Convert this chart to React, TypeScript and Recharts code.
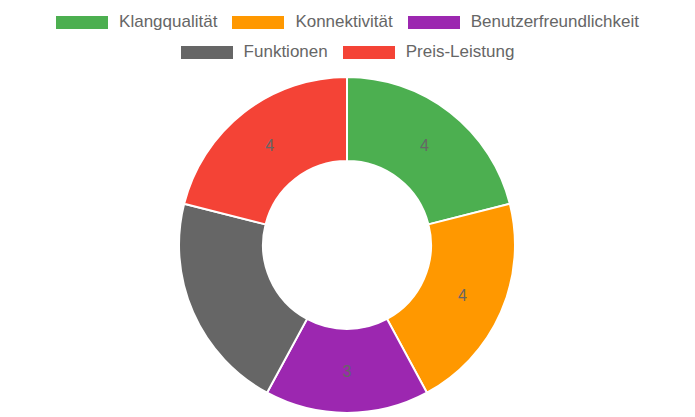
import React from "react";
import { PieChart, Pie, Cell, Legend } from "recharts";

// ratings per category
const categories = ["Klangqualität", "Konnektivität", "Benutzerfreundlichkeit", "Funktionen", "Preis-Leistung"];
const ratings = [4, 4, 3, 4, 4];
const sliceColors = ["#4caf50", "#ff9800", "#9c27b0", "#666666", "#f44336"];

const data = categories.map((name, i) => ({ name, value: ratings[i] }));

const RADIAN = Math.PI / 180;
const LEGEND_HEIGHT = 67;

// value label in the middle of each ring segment
const renderLabel = ({ cx, cy, midAngle, innerRadius, outerRadius, value }: any) => {
  const r = (innerRadius + outerRadius) / 2;
  const x = cx + r * Math.cos(-midAngle * RADIAN);
  const y = cy + r * Math.sin(-midAngle * RADIAN);
  return (
    <text
      x={x}
      y={y}
      fill="#666"
      textAnchor="middle"
      dominantBaseline="central"
      style={{ fontSize: 16, fontFamily: "'Liberation Sans', Arial, sans-serif" }}
    >
      {value}
    </text>
  );
};

const rows = [
  [0, 1, 2],
  [3, 4],
];

const renderLegend = () => (
  <div style={{ fontFamily: "'Liberation Sans', Arial, sans-serif", fontSize: 17, color: "#666", height: LEGEND_HEIGHT }}>
    {rows.map((row, ri) => (
      <div
        key={ri}
        style={{ display: "flex", justifyContent: "center", alignItems: "center", height: 30, marginTop: ri === 0 ? 7 : 0 }}
      >
        {row.map((idx, k) => (
          <div key={idx} style={{ display: "flex", alignItems: "center", marginLeft: k === 0 ? 0 : 15 }}>
            <span
              style={{
                display: "inline-block",
                width: 52,
                height: 13,
                background: sliceColors[idx],
                marginRight: 11,
              }}
            />
            <span>{categories[idx]}</span>
          </div>
        ))}
      </div>
    ))}
  </div>
);

export default function App() {
  return (
    <div style={{ position: "absolute", top: 0, left: 0, width: 695, height: 417, background: "#fff" }}>
      <PieChart width={695} height={417} margin={{ top: 0, right: 0, bottom: 0, left: 0 }}>
        <Legend
          verticalAlign="top"
          align="center"
          content={renderLegend}
          wrapperStyle={{ top: 0, left: 0, width: 695 }}
        />
        <Pie
          data={data}
          dataKey="value"
          nameKey="name"
          cx={347}
          cy={238 - LEGEND_HEIGHT}
          innerRadius={84}
          outerRadius={168}
          startAngle={90}
          endAngle={-270}
          stroke="#fff"
          strokeWidth={2}
          labelLine={false}
          label={renderLabel}
          isAnimationActive={false}
        >
          {data.map((entry, i) => (
            <Cell key={`cell-${i}`} fill={sliceColors[i]} />
          ))}
        </Pie>
      </PieChart>
    </div>
  );
}
